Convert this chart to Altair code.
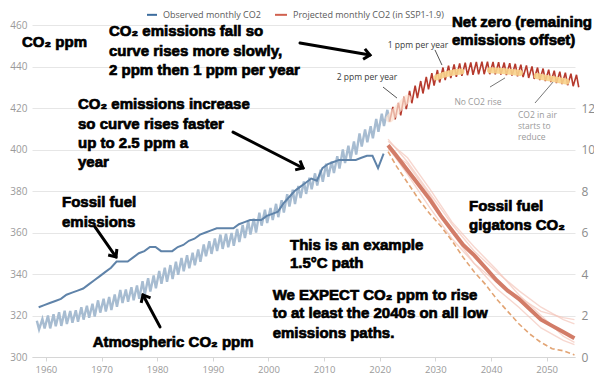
import altair as alt
import pandas as pd

# ---------------- data ----------------
# Observed monthly CO2 (Mauna Loa): seasonal peak (May) and trough (Sep/Oct), ppm
obs_years = list(range(1958, 2022))
obs_peak = [317.5, 318.3, 320.0, 320.6, 321.6, 322.3, 322.2, 322.5, 324.0, 324.7, 325.7, 327.3,
            328.1, 328.9, 330.1, 332.3, 332.5, 333.6, 334.5, 336.5, 338.0, 339.3,
            341.5, 343.0, 344.3, 345.9, 347.7, 349.0, 350.2, 351.8, 354.2, 355.8,
            357.1, 359.0, 359.4, 359.8, 361.7, 363.6, 365.4, 366.7, 369.5, 371.0,
            371.8, 373.8, 375.6, 378.5, 380.6, 382.4, 384.6, 386.4, 388.5, 390.2,
            393.2, 394.2, 396.8, 400.0, 401.8, 403.9, 407.7, 409.7, 411.2, 414.7,
            417.3, 419.1]
obs_trough = [313.3, 313.8, 313.8, 314.8, 315.0, 315.9, 316.5, 317.0, 318.0, 318.9, 319.5, 321.4,
              321.9, 322.6, 324.2, 326.0, 326.6, 327.3, 328.0, 330.0, 331.6, 333.1,
              335.3, 336.2, 337.6, 339.6, 341.3, 342.8, 344.2, 345.9, 348.5, 349.7,
              351.1, 352.1, 352.9, 353.6, 355.4, 357.3, 359.0, 360.0, 363.3, 364.6,
              366.0, 367.4, 369.6, 372.5, 373.7, 376.6, 378.6, 380.8, 382.6, 384.4,
              386.9, 388.7, 390.8, 393.5, 395.5, 397.6, 401.4, 403.5, 405.4, 408.5,
              411.3, 413.4]

# Projected monthly CO2 (SSP1-1.9): seasonal peak and trough, ppm
proj_years = list(range(2022, 2056))
proj_peak = [420.5, 422.5, 425.5, 428.3, 430.8, 433.0, 435.0, 436.8, 438.3, 439.5,
             440.4, 441.0, 441.5, 441.8, 442.0, 442.2, 442.3, 442.3, 442.2, 442.1,
             441.9, 441.6, 441.3, 440.9, 440.5, 440.0, 439.5, 439.0, 438.5, 438.0,
             437.5, 437.0, 436.5, 436.0]
proj_trough = [414.5, 416.5, 419.5, 422.3, 424.8, 427.0, 429.0, 430.8, 432.3, 433.5,
               434.4, 435.0, 435.5, 435.8, 436.0, 436.2, 436.3, 436.3, 436.2, 436.1,
               435.9, 435.6, 435.3, 434.9, 434.5, 434.0, 433.5, 433.0, 432.5, 432.0,
               431.5, 431.0, 430.5, 430.0]

# Highlighted stretches of the projected curve (ppm)
hl_early_years = [2021.8, 2022.6, 2023.4, 2024.2, 2025.0]
hl_early_ppm = [415.0, 417.5, 420.0, 422.3, 424.5]
hl1_years = [2030.2, 2031.5, 2032.5, 2033.5, 2034.7]
hl1_ppm = [434.7, 436.0, 436.7, 437.2, 437.6]
hl2_years = [2039.8, 2041.5, 2043.0, 2044.5, 2045.2]
hl2_ppm = [438.2, 438.0, 437.6, 437.1, 436.9]
hl3_years = [2048.2, 2050.0, 2051.5, 2053.0, 2053.6]
hl3_ppm = [435.4, 434.5, 433.8, 433.0, 432.7]

# Fossil fuel emissions (gigatons, right axis)
em_years = list(range(1959, 2022))
em_vals = [2.4, 2.5, 2.6, 2.7, 2.8, 3.0, 3.1, 3.2, 3.3, 3.5, 3.7,
           3.9, 4.1, 4.3, 4.6, 4.6, 4.6, 4.8, 5.0, 5.1, 5.3,
           5.3, 5.1, 5.1, 5.1, 5.3, 5.4, 5.6, 5.7, 5.9, 6.0,
           6.1, 6.2, 6.2, 6.2, 6.2, 6.4, 6.5, 6.6, 6.6, 6.6,
           6.8, 6.9, 7.0, 7.4, 7.7, 8.0, 8.2, 8.4, 8.6, 8.5,
           9.1, 9.3, 9.4, 9.5, 9.5, 9.5, 9.5, 9.6, 9.7, 9.7,
           9.1, 9.8]

# Projected fossil fuel emissions paths (gigatons)
pj_years = [2021.5, 2023, 2025, 2027, 2029, 2031, 2033, 2035, 2037, 2039, 2041,
            2043, 2045, 2047, 2049, 2051, 2053, 2055]
pj_main = [10.2, 9.7, 9.0, 8.3, 7.6, 6.8, 6.1, 5.4, 4.9, 4.3, 3.7,
           3.2, 2.8, 2.3, 1.8, 1.5, 1.2, 0.9]
pj_dashed = [9.9, 9.2, 8.4, 7.6, 6.9, 6.3, 5.6, 4.8, 4.1, 3.5, 2.8,
             2.2, 1.6, 1.1, 0.7, 0.4, 0.3, 0.1]
faint_years = [2021.5, 2025, 2029, 2033, 2037, 2041, 2045, 2049, 2053, 2055]
faint_a = [10.5, 9.4, 7.9, 6.4, 5.1, 4.1, 3.2, 2.4, 1.8, 1.6]
faint_b = [10.0, 9.3, 7.8, 6.0, 4.5, 3.6, 2.9, 2.2, 1.9, 1.8]
faint_c = [10.1, 8.8, 7.2, 5.7, 4.5, 3.3, 2.4, 1.4, 0.8, 0.6]
faint_d = [10.4, 9.6, 8.1, 6.5, 5.3, 4.2, 3.0, 2.0, 1.0, 0.7]

# ---------------- tables ----------------
obs_rows = []
for y, p, t in zip(obs_years, obs_peak, obs_trough):
    obs_rows.append({"year": y + 0.37, "ppm": p})
    obs_rows.append({"year": y + 0.77, "ppm": t})
obs_df = pd.DataFrame(obs_rows)

proj_rows = [{"year": obs_years[-1] + 0.77, "ppm": obs_trough[-1]}]
for y, p, t in zip(proj_years, proj_peak, proj_trough):
    proj_rows.append({"year": y + 0.37, "ppm": p})
    proj_rows.append({"year": y + 0.77, "ppm": t})
proj_df = pd.DataFrame(proj_rows)

hl_main_df = pd.concat([
    pd.DataFrame({"year": hl1_years, "ppm": hl1_ppm, "seg": "a"}),
    pd.DataFrame({"year": hl2_years, "ppm": hl2_ppm, "seg": "b"}),
    pd.DataFrame({"year": hl3_years, "ppm": hl3_ppm, "seg": "c"}),
])
hl_early_df = pd.DataFrame({"year": hl_early_years, "ppm": hl_early_ppm})

em_df = pd.DataFrame({"yr": em_years, "gt": em_vals})
pj_main_df = pd.DataFrame({"year": pj_years, "gt": pj_main})
pj_dash_df = pd.DataFrame({"year": pj_years, "gt": pj_dashed})
faint_df = pd.concat([
    pd.DataFrame({"year": faint_years, "gt": v, "s": k})
    for k, v in zip("abcd", [faint_a, faint_b, faint_c, faint_d])
])

# ---------------- scales / axes ----------------
X_SCALE = alt.Scale(domain=[1957.5, 2055.1], nice=False, zero=False)
Y_SCALE = alt.Scale(domain=[300, 460], nice=False, zero=False)
G_SCALE = alt.Scale(domain=[0, 16], nice=False, zero=False)

x_axis = alt.Axis(values=list(range(1960, 2051, 10)), format="d", title=None, grid=False,
                  domain=True, ticks=True,
                  domainColor="#d6d6d6", tickColor="#d6d6d6", tickSize=4,
                  labelColor="#9a9a9a", labelFont="Open Sans", labelFontSize=9.5,
                  labelPadding=3)
y_axis = alt.Axis(values=list(range(300, 461, 20)), title=None, grid=True,
                  gridColor="#e6e6e6", domain=False, ticks=False,
                  labelColor="#9a9a9a", labelFont="Open Sans", labelFontSize=10,
                  labelPadding=5)
g_axis = alt.Axis(orient="right", values=list(range(0, 13, 2)), title=None, grid=False,
                  domain=False, ticks=False, labelColor="#8c8c8c", labelFont="Open Sans",
                  labelFontSize=12, labelPadding=6)

X = alt.X("year:Q", scale=X_SCALE, axis=x_axis)
Y = alt.Y("ppm:Q", scale=Y_SCALE, axis=y_axis)
G = alt.Y("gt:Q", scale=G_SCALE, axis=g_axis)
YA = alt.Y("ppm:Q", scale=Y_SCALE, axis=None)

# ---------------- left (ppm) layers ----------------
obs_line = alt.Chart(obs_df).mark_line(color="#a7bcd1", strokeWidth=2.4).encode(x=X, y=Y)
proj_line = alt.Chart(proj_df).mark_line(color="#b63a2d", strokeWidth=1.6).encode(x=X, y=Y)
hl_early = alt.Chart(hl_early_df).mark_line(color="#fde2d2", strokeWidth=8, opacity=0.7,
                                            strokeCap="round").encode(x=X, y=Y)
hl_main = alt.Chart(hl_main_df).mark_line(color="#f8d38c", strokeWidth=6, opacity=0.9,
                                          strokeCap="round").encode(x=X, y=Y, detail="seg:N")
left = alt.layer(obs_line, proj_line, hl_early, hl_main)

# ---------------- right (gigatons) layers ----------------
em_line = alt.Chart(em_df).transform_calculate(year="datum.yr - 0.3").mark_line(
    color="#5f83a9", strokeWidth=2).encode(x=X, y=G)
faint = alt.Chart(faint_df).mark_line(color="#f4c6ba", strokeWidth=1.4, opacity=0.7).encode(
    x=X, y=G, detail="s:N")
dashed = alt.Chart(pj_dash_df).mark_line(color="#e2a474", strokeWidth=1.6,
                                         strokeDash=[5, 3]).encode(x=X, y=G)
main_dec = alt.Chart(pj_main_df).mark_line(color="#d27c68", strokeWidth=4).encode(x=X, y=G)
right = alt.layer(faint, dashed, main_dec, em_line)

# ---------------- annotations ----------------
bold_df = pd.DataFrame([
    ("CO₂ ppm", 1955.70, 451.8),
    ("CO₂ emissions fall so", 1971.34, 457.1),
    ("curve rises more slowly,", 1971.34, 447.5),
    ("2 ppm then 1 ppm per year", 1971.34, 438.3),
    ("Net zero (remaining", 2032.99, 461.4),
    ("emissions offset)", 2032.99, 452.8),
    ("CO₂ emissions increase", 1965.77, 421.9),
    ("so curve rises faster", 1965.77, 412.3),
    ("up to 2.5 ppm a", 1965.77, 403.1),
    ("year", 1965.77, 394.0),
    ("Fossil fuel", 1962.89, 374.7),
    ("emissions", 1962.89, 365.1),
    ("This is an example", 2003.87, 354.0),
    ("1.5°C path", 2003.87, 345.2),
    ("Fossil fuel", 2036.05, 372.8),
    ("gigatons CO₂", 2036.05, 363.6),
    ("We EXPECT CO₂ ppm to rise", 2000.76, 329.9),
    ("to at least the 2040s on all low", 2000.76, 321.1),
    ("emissions paths.", 2000.76, 311.4),
    ("Atmospheric CO₂ ppm", 1968.41, 307.4),
], columns=["text", "year", "ppm"])

small_dark_df = pd.DataFrame([
    ("1 ppm per year", 2026.88, 450.4),
    ("2 ppm per year", 2017.71, 435.1),
], columns=["text", "year", "ppm"])
small_grey_c_df = pd.DataFrame([("No CO2 rise", 2037.66, 422.9)], columns=["text", "year", "ppm"])
small_grey_l_df = pd.DataFrame([
    ("CO2 in air", 2044.85, 416.6),
    ("starts to", 2044.85, 411.1),
    ("reduce", 2044.85, 405.8),
], columns=["text", "year", "ppm"])

arrows_df = pd.DataFrame([
    (2005.67, 451.3, 2018.25, 445.5),
    (1993.63, 408.4, 2006.21, 391.1),
    (1968.82, 362.7, 1972.60, 348.2),
    (1980.51, 314.5, 1977.45, 329.9),
], columns=["year", "ppm", "year2", "ppm2"])
heads_df = pd.DataFrame([
    (2018.25, 445.5, 99.7),
    (2006.21, 391.1, 117.2),
    (1972.60, 348.2, 145.0),
    (1977.45, 329.9, 332.0),
], columns=["year", "ppm", "ang"])
pointers_df = pd.DataFrame([
    (2020.59, 430.1, 2023.10, 424.8, "#555555"),
    (2029.93, 448.0, 2031.19, 440.7, "#555555"),
    (2039.82, 430.1, 2042.52, 434.5, "#777777"),
    (2047.91, 422.4, 2051.15, 432.5, "#777777"),
], columns=["year", "ppm", "year2", "ppm2", "c"])

legend_lines_df = pd.DataFrame([
    (1978.17, 1979.97, 464.9, "#3d6d9e"),
    (2001.18, 2003.33, 464.9, "#d0614f"),
], columns=["year", "year2", "ppm", "c"])
legend_text_df = pd.DataFrame([
    ("Observed monthly CO2", 1981.05, 464.9),
    ("Projected monthly CO2 (in SSP1-1.9)", 2004.41, 464.9),
], columns=["text", "year", "ppm"])

bold_text = alt.Chart(bold_df).mark_text(
    align="left", baseline="middle", font="Liberation Sans", fontSize=15,
    fontWeight="bold", color="#000000", stroke="#000000", strokeWidth=0.7
).encode(x=X, y=YA, text="text:N")

small_dark = alt.Chart(small_dark_df).mark_text(
    align="center", baseline="middle", font="Open Sans", fontSize=8.5, color="#3a3a3a"
).encode(x=X, y=YA, text="text:N")
small_grey_c = alt.Chart(small_grey_c_df).mark_text(
    align="center", baseline="middle", font="Open Sans", fontSize=8.5, color="#9a9a9a"
).encode(x=X, y=YA, text="text:N")
small_grey_l = alt.Chart(small_grey_l_df).mark_text(
    align="left", baseline="middle", font="Open Sans", fontSize=8.5, color="#9a9a9a"
).encode(x=X, y=YA, text="text:N")

arrow_shafts = alt.Chart(arrows_df).mark_rule(
    color="#000000", strokeWidth=3, strokeCap="round"
).encode(x=X, y=YA, x2="year2:Q", y2="ppm2:Q")
arrow_heads = alt.Chart(heads_df).mark_point(
    shape="M -0.7 0.8 L 0 0 L 0.7 0.8", filled=False, stroke="#000000", strokeWidth=3,
    size=230, opacity=1, strokeJoin="miter"
).encode(x=X, y=YA, angle=alt.Angle("ang:Q", scale=None))
pointers = alt.Chart(pointers_df).mark_rule(strokeWidth=1).encode(
    x=X, y=YA, x2="year2:Q", y2="ppm2:Q", color=alt.Color("c:N", scale=None))

legend_lines = alt.Chart(legend_lines_df).mark_rule(strokeWidth=2).encode(
    x=X, x2="year2:Q", y=YA, color=alt.Color("c:N", scale=None))
legend_text = alt.Chart(legend_text_df).mark_text(
    align="left", baseline="middle", font="Open Sans", fontSize=9, color="#5a5a5a"
).encode(x=X, y=YA, text="text:N")

annot = alt.layer(pointers, arrow_shafts, arrow_heads, bold_text, small_dark,
                  small_grey_c, small_grey_l, legend_lines, legend_text)

chart = alt.layer(left, right, annot).resolve_scale(y="independent").properties(
    width=543, height=332,
    autosize=alt.AutoSizeParams(type="none"),
    padding={"left": 24, "top": 17, "right": 19, "bottom": 20},
    background="#ffffff",
).configure_view(stroke=None)

chart.save("out.html", embed_options={"renderer": "svg", "actions": False})
